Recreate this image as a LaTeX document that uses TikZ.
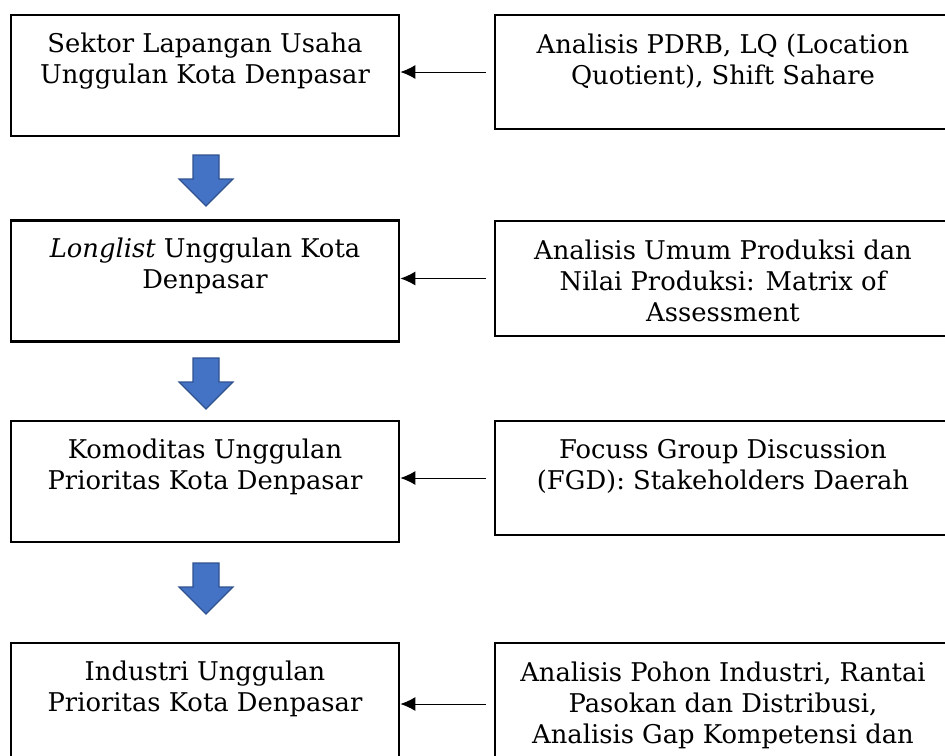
\documentclass[tikz,border=0pt]{standalone}
\usepackage{fontspec}
\setmainfont{DejaVu Serif}
\usetikzlibrary{arrows.meta,positioning}
\definecolor{arrowblue}{HTML}{4472C4}
\definecolor{arrowedge}{HTML}{2F528F}
\tikzset{
  mainbox/.style={draw, line width=2.8pt, minimum width=388pt, minimum height=121pt, inner sep=0pt},
  sidebox/.style={draw, line width=1.6pt, minimum width=456pt, minimum height=114pt, inner sep=0pt},
  boxtext/.style={align=center, inner sep=0pt, anchor=north, font=\fontsize{25.8}{31}\selectfont},
  feed/.style={-{Latex[length=15pt,width=14pt]}, line width=1pt, shorten <=8pt},
  blockarrow/.style={fill=arrowblue, draw=arrowedge, line width=1.2pt, line join=miter}
}

\begin{document}
\begin{tikzpicture}[x=1pt, y=-1pt]
  \useasboundingbox (0,0) rectangle (945,755);
  \clip (0,0) rectangle (945,755);

  % left column
  \node[mainbox] (sektor) at (205,75.5) {};
  \node[mainbox] (longlist) at (205,281) {};
  \node[mainbox] (komoditas) at (205,481.5) {};
  \node[mainbox, minimum height=122pt] (industri) at (205,704) {};

  \node[boxtext, below=19pt of sektor.north] (sektort) {Sektor Lapangan Usaha\\Unggulan Kota Denpasar};
  \node[boxtext, below=19pt of longlist.north] (longlistt) {\textit{Longlist} Unggulan Kota\\Denpasar};
  \node[boxtext, below=19pt of komoditas.north] (komoditast) {Komoditas Unggulan\\Prioritas Kota Denpasar};
  \node[boxtext, below=19pt of industri.north] (industrit) {Industri Unggulan\\Prioritas Kota Denpasar};

  % right column
  \node[sidebox] (pdrb) at (723,72) {};
  \node[sidebox, minimum height=115pt] (matrix) at (723,278.5) {};
  \node[sidebox] (fgd) at (723,478) {};
  \node[sidebox, minimum height=122pt] (pohon) at (723,704) {};

  \node[boxtext, below=19pt of pdrb.north] (pdrbt) {Analisis PDRB, LQ (Location\\Quotient), Shift Sahare};
  \node[boxtext, below=19pt of matrix.north] (matrixt) {Analisis Umum Produksi dan\\Nilai Produksi: Matrix of\\Assessment};
  \node[boxtext, below=19pt of fgd.north] (fgdt) {Focuss Group Discussion\\(FGD): Stakeholders Daerah};
  \node[boxtext, below=19pt of pohon.north] (pohont) {Analisis Pohon Industri, Rantai\\Pasokan dan Distribusi,\\Analisis Gap Kompetensi dan};

  % feeds
  \draw[feed] (pdrb.west) -- (pdrb.west -| sektor.east);
  \draw[feed] (matrix.west) -- (matrix.west -| longlist.east);
  \draw[feed] (fgd.west) -- (fgd.west -| komoditas.east);
  \draw[feed] (pohon.west) -- (pohon.west -| industri.east);

  % block arrows
  \foreach \t in {155,358,563}
    \draw[blockarrow] (193,\t) -- (219,\t) -- (219,\t+24) -- (233,\t+24) -- (206,\t+51)
      -- (179,\t+24) -- (193,\t+24) -- cycle;
\end{tikzpicture}
\end{document}
